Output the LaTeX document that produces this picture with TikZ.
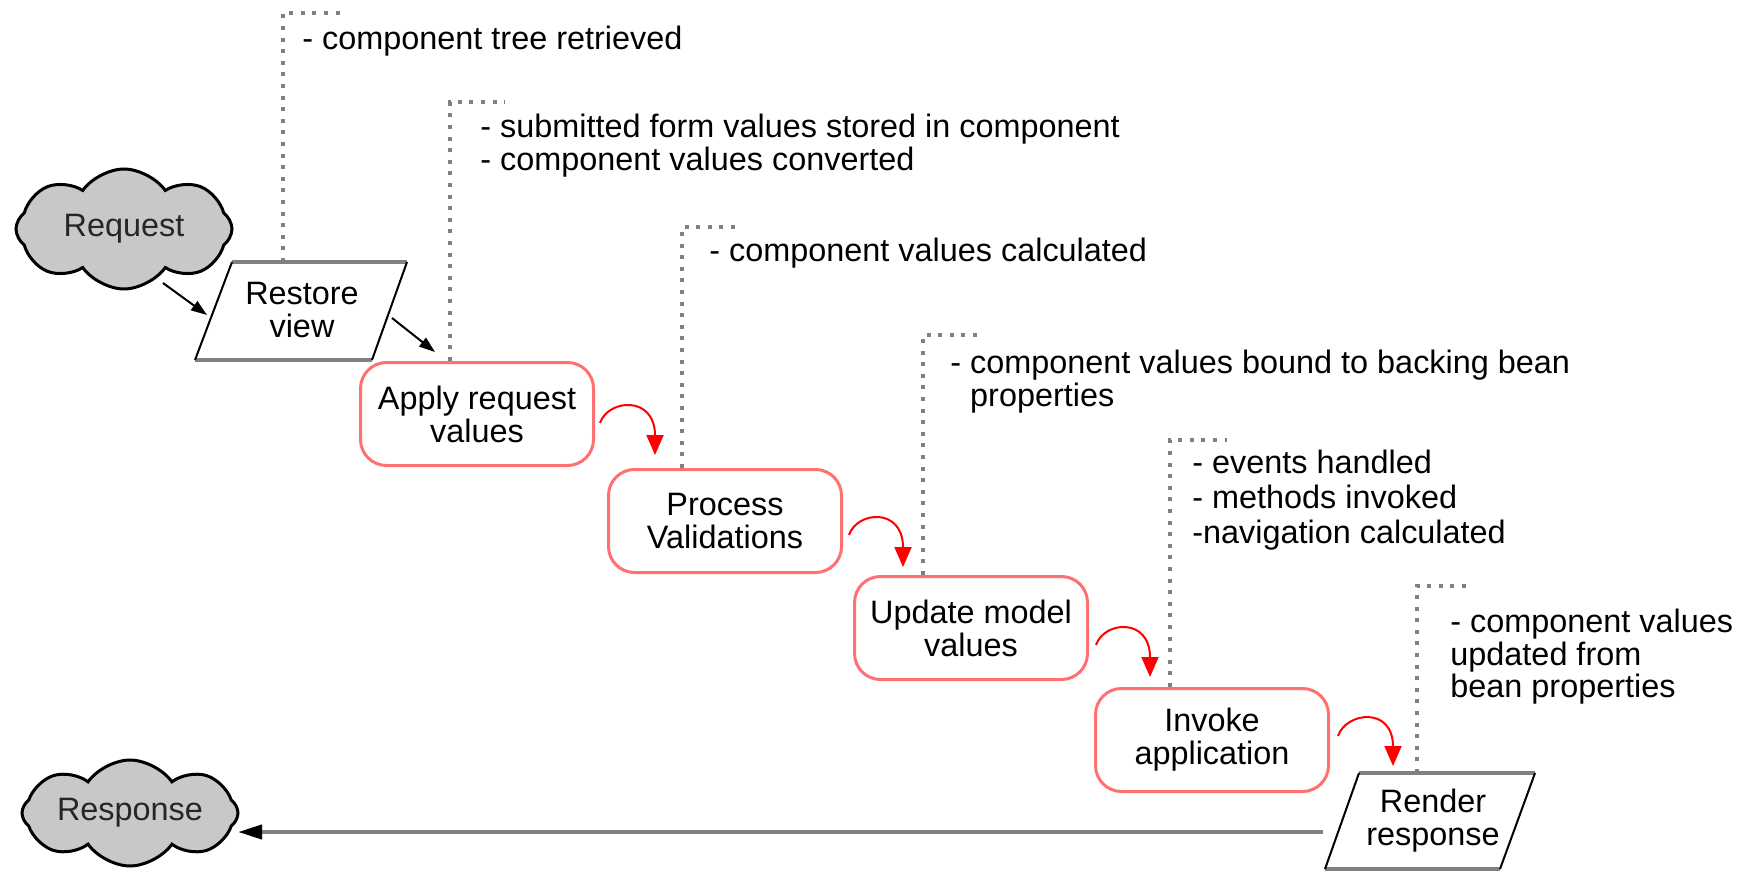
\documentclass[tikz,border=0pt]{standalone}
\usepackage{fontspec}
\setmainfont{Liberation Sans}
\usetikzlibrary{shapes.symbols,arrows.meta,calc}
\definecolor{dotgray}{RGB}{128,128,128}
\definecolor{boxred}{RGB}{255,112,112}
\definecolor{cloudgray}{RGB}{200,200,200}
\begin{document}
\begin{tikzpicture}[x=0.5pt,y=-0.5pt,
  font=\fontsize{16.2}{16.5}\selectfont,
  phase/.style={draw=boxred, line width=1.5pt, rounded corners=13pt,
    minimum width=116.5pt, minimum height=51.5pt, align=center, inner sep=0pt},
  cloudnode/.style={cloud, cloud puffs=8, cloud puff arc=110, cloud ignores aspect,
    draw=black, line width=1.5pt, fill=cloudgray, minimum width=108pt,
    minimum height=60pt, inner sep=0pt, text=black!85},
  note/.style={anchor=base west, inner sep=0pt},
  dotline/.style={dotgray, line width=2pt, dash pattern=on 2pt off 3.8pt},
  redarrow/.style={red, line width=1pt, -{Triangle[length=10pt,width=8.5pt]}},
  blackarrow/.style={black, line width=1pt, -{Triangle[length=8pt,width=5.5pt]}},
  edgegray/.style={dotgray, line width=2pt},
  edgeside/.style={black, line width=1pt},
  lbl/.style={align=center, inner sep=0pt}
]
\useasboundingbox (0,0) rectangle (1743,871);

% clouds
\node[cloudnode] (request) at (124,229) {Request};
\node[cloudnode, minimum height=53pt] (response) at (130,813) {Response};

% Restore view parallelogram
\coordinate (rTL) at (232,262);
\coordinate (rTR) at (407,262);
\coordinate (rBR) at (372,360);
\coordinate (rBL) at (195,360);
\draw[edgegray] (rTL) -- (rTR);
\draw[edgegray] (rBL) -- (rBR);
\draw[edgeside] (rTL) -- (rBL);
\draw[edgeside] (rTR) -- (rBR);
\node[lbl] (restore) at (302,310) {Restore\\view};

% Render response parallelogram
\coordinate (sTL) at (1359,773);
\coordinate (sTR) at (1535,773);
\coordinate (sBR) at (1500,869);
\coordinate (sBL) at (1325,869);
\draw[edgegray] (sTL) -- (sTR);
\draw[edgegray] (sBL) -- (sBR);
\draw[edgeside] (sTL) -- (sBL);
\draw[edgeside] (sTR) -- (sBR);
\node[lbl] (render) at (1433,821) {Render\\response};

% phases
\node[phase] (apply) at (477,414) {Apply request\\values};
\node[phase] (process) at (725,521) {Process\\Validations};
\node[phase] (update) at (971,628) {Update model\\values};
\node[phase] (invoke) at (1212,740) {Invoke\\application};

% dotted annotation lines
\coordinate (c1) at (283,13);   \coordinate (e1) at (340,13);
\coordinate (c2) at (450,102);  \coordinate (e2) at (505,102);
\coordinate (c3) at (682,227);  \coordinate (e3) at (735,227);
\coordinate (c4) at (923,335);  \coordinate (e4) at (978,335);
\coordinate (c5) at (1170,440); \coordinate (e5) at (1227,440);
\coordinate (c6) at (1417,586); \coordinate (e6) at (1472,586);
\draw[dotline] (rTL -| c1) -- (c1) -- (e1);
\draw[dotline] (apply.north -| c2) -- (c2) -- (e2);
\draw[dotline] (process.north -| c3) -- (c3) -- (e3);
\draw[dotline] (update.north -| c4) -- (c4) -- (e4);
\draw[dotline] (invoke.north -| c5) -- (c5) -- (e5);
\draw[dotline] (sTL -| c6) -- (c6) -- (e6);

% annotation texts
\node[note] (n1) at (302,50) {- component tree retrieved};
\node[note] (n2a) at (480,138) {- submitted form values stored in component};
\node[note] (n2b) at (480,171) {- component values converted};
\node[note] (n3) at (709,262) {- component values calculated};
\node[note] (n4a) at (950,373) {- component values bound to backing bean};
\node[note] (n4b) at (950,406) {\phantom{- }properties};
\node[note] (n5a) at (1192,473) {- events handled};
\node[note] (n5b) at (1192,508) {- methods invoked};
\node[note] (n5c) at (1192,543) {-navigation calculated};
\node[note] (n6a) at (1450,632) {- component values};
\node[note] (n6b) at (1450,665) {updated from};
\node[note] (n6c) at (1450,697) {bean properties};

% black arrows
\coordinate (q1) at (163,283); \coordinate (q2) at (207,315);
\coordinate (q3) at (392,318); \coordinate (q4) at (435,352);
\draw[blackarrow] (q1) -- (q2);
\draw[blackarrow] (q3) -- (q4);

% response arrow
\coordinate (p1) at (1323,832); \coordinate (p2) at (238,832);
\draw[edgegray, -{Triangle[length=12pt,width=7pt,color=black]}] (p1) -- (p2);

% red hop arrows
\coordinate (a1s) at (600,423);  \coordinate (a1t) at (655,455);
\coordinate (a2s) at (849,535);  \coordinate (a2t) at (903,567);
\coordinate (a3s) at (1096,645); \coordinate (a3t) at (1150,677);
\coordinate (a4s) at (1338,736); \coordinate (a4t) at (1393,766);
\draw[redarrow] (a1s) .. controls ($(a1s)+(8,-24)$) and ($(a1t)+(0,-60)$) .. (a1t);
\draw[redarrow] (a2s) .. controls ($(a2s)+(8,-24)$) and ($(a2t)+(0,-60)$) .. (a2t);
\draw[redarrow] (a3s) .. controls ($(a3s)+(8,-24)$) and ($(a3t)+(0,-60)$) .. (a3t);
\draw[redarrow] (a4s) .. controls ($(a4s)+(8,-24)$) and ($(a4t)+(0,-60)$) .. (a4t);
\end{tikzpicture}
\end{document}
